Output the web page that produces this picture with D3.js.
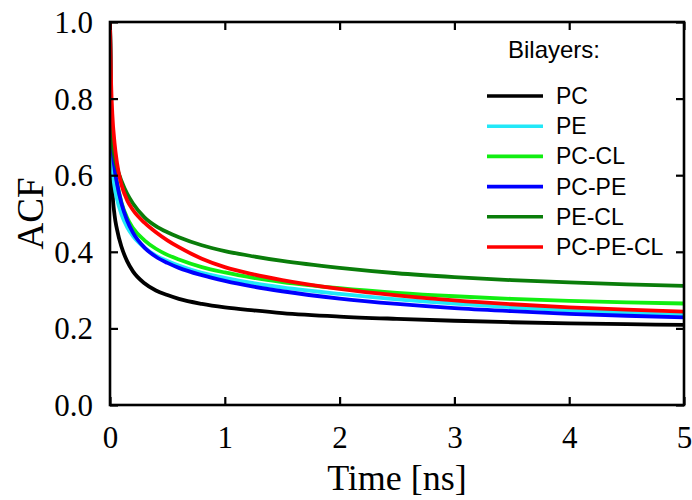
<!DOCTYPE html>
<html>
<head>
<meta charset="utf-8">
<script src="https://cdn.jsdelivr.net/npm/d3@7"></script>
<style>
  html, body { margin: 0; padding: 0; background: #fff; }
  svg { display: block; }
</style>
</head>
<body>
<svg id="chart" width="692" height="500"></svg>
<script>
// Time axis (ns) shared by every series
const times = [0, 0.01, 0.02, 0.04, 0.06, 0.1, 0.15, 0.2, 0.3, 0.4, 0.5, 0.6, 0.8,
               1.0, 1.25, 1.5, 2.0, 2.5, 3.0, 3.5, 4.0, 4.5, 5.0];

// Autocorrelation function for each bilayer composition
const acfPC     = [1.0, 0.678, 0.568, 0.495, 0.460, 0.413, 0.375, 0.349, 0.318, 0.299, 0.287, 0.277, 0.264,
                   0.255, 0.247, 0.240, 0.231, 0.225, 0.220, 0.216, 0.213, 0.211, 0.209];
const acfPE     = [1.0, 0.726, 0.632, 0.569, 0.539, 0.498, 0.464, 0.441, 0.411, 0.390, 0.376, 0.364, 0.345,
                   0.332, 0.318, 0.307, 0.290, 0.276, 0.265, 0.255, 0.247, 0.241, 0.235];
const acfPCCL   = [1.0, 0.784, 0.699, 0.626, 0.584, 0.529, 0.488, 0.462, 0.430, 0.408, 0.392, 0.380, 0.360,
                   0.346, 0.332, 0.321, 0.305, 0.293, 0.284, 0.277, 0.272, 0.268, 0.265];
const acfPCPE   = [1.0, 0.767, 0.683, 0.617, 0.580, 0.526, 0.481, 0.450, 0.411, 0.387, 0.371, 0.358, 0.339,
                   0.324, 0.309, 0.297, 0.278, 0.264, 0.253, 0.245, 0.238, 0.233, 0.229];
const acfPECL   = [1.0, 0.770, 0.694, 0.646, 0.621, 0.585, 0.551, 0.526, 0.490, 0.467, 0.451, 0.438, 0.417,
                   0.402, 0.388, 0.376, 0.358, 0.344, 0.334, 0.326, 0.320, 0.315, 0.311];
const acfPCPECL = [1.0, 0.836, 0.761, 0.683, 0.634, 0.575, 0.534, 0.509, 0.476, 0.451, 0.430, 0.412, 0.382,
                   0.360, 0.341, 0.326, 0.303, 0.286, 0.273, 0.263, 0.255, 0.249, 0.244];

const seriesNames  = ["PC", "PE", "PC-CL", "PC-PE", "PE-CL", "PC-PE-CL"];
const seriesValues = [acfPC, acfPE, acfPCCL, acfPCPE, acfPECL, acfPCPECL];
const seriesColors = ["#000000", "#22e8f8", "#11ee11", "#0000ff", "#0a7d0a", "#ff0000"];

const xTicks = [0, 1, 2, 3, 4, 5];
const yTicks = [0.0, 0.2, 0.4, 0.6, 0.8, 1.0];

const legendTitle = "Bilayers:";
const xTitle = "Time [ns]";
const yTitle = "ACF";

// Layout
const plot = { left: 110, right: 684, top: 22, bottom: 405 };
const svg = d3.select("#chart");

const x = d3.scaleLinear().domain([0, 5]).range([plot.left, plot.right]);
const y = d3.scaleLinear().domain([0, 1]).range([plot.bottom, plot.top]);

const serif = "'Liberation Serif', 'Times New Roman', serif";
const sans = "'Liberation Sans', Arial, sans-serif";

// Clip curves to the plot frame
svg.append("defs").append("clipPath").attr("id", "plot-clip")
  .append("rect")
  .attr("x", plot.left).attr("y", plot.top)
  .attr("width", plot.right - plot.left).attr("height", plot.bottom - plot.top);

// Curves
const line = d3.line()
  .x(d => x(d[0]))
  .y(d => y(d[1]))
  .curve(d3.curveMonotoneX);

const curves = svg.append("g").attr("clip-path", "url(#plot-clip)");
seriesValues.forEach((vals, i) => {
  curves.append("path")
    .datum(times.map((t, j) => [t, vals[j]]))
    .attr("fill", "none")
    .attr("stroke", seriesColors[i])
    .attr("stroke-width", 3.8)
    .attr("stroke-linejoin", "round")
    .attr("d", line);
});

// Axes with inward ticks on all four sides
function styleAxis(g) {
  g.select(".domain").remove();
  g.selectAll(".tick line").attr("stroke", "#000").attr("stroke-width", 2.2);
  g.selectAll(".tick text").attr("fill", "#000");
}

svg.append("g")
  .attr("transform", `translate(0,${plot.bottom})`)
  .call(d3.axisBottom(x).tickValues(xTicks).tickFormat(d3.format("d"))
        .tickSizeInner(-8).tickSizeOuter(0).tickPadding(21))
  .call(styleAxis)
  .call(g => g.selectAll(".tick text").attr("font-family", serif).attr("font-size", 31));

svg.append("g")
  .attr("transform", `translate(${plot.left},0)`)
  .call(d3.axisLeft(y).tickValues(yTicks).tickFormat(d3.format(".1f"))
        .tickSizeInner(-8).tickSizeOuter(0).tickPadding(17))
  .call(styleAxis)
  .call(g => g.selectAll(".tick text").attr("font-family", serif).attr("font-size", 31)
                .attr("dy", "0.34em"));

svg.append("g")
  .attr("transform", `translate(0,${plot.top})`)
  .call(d3.axisTop(x).tickValues(xTicks).tickFormat("").tickSizeInner(-8).tickSizeOuter(0))
  .call(styleAxis);

svg.append("g")
  .attr("transform", `translate(${plot.right},0)`)
  .call(d3.axisRight(y).tickValues(yTicks).tickFormat("").tickSizeInner(-8).tickSizeOuter(0))
  .call(styleAxis);

// Frame
svg.append("rect")
  .attr("x", plot.left).attr("y", plot.top)
  .attr("width", plot.right - plot.left).attr("height", plot.bottom - plot.top)
  .attr("fill", "none").attr("stroke", "#000").attr("stroke-width", 2.6);

// Axis titles
svg.append("text")
  .attr("x", (plot.left + plot.right) / 2).attr("y", 490)
  .attr("text-anchor", "middle")
  .attr("font-family", serif).attr("font-size", 36)
  .text(xTitle);

svg.append("text")
  .attr("transform", `translate(43,${(plot.top + plot.bottom) / 2}) rotate(-90)`)
  .attr("text-anchor", "middle")
  .attr("font-family", serif).attr("font-size", 37)
  .text(yTitle);

// Legend
const legend = svg.append("g");
legend.append("text")
  .attr("x", 508).attr("y", 58)
  .attr("font-family", sans).attr("font-size", 24)
  .text(legendTitle);

seriesNames.forEach((name, i) => {
  const ly = 96 + i * 30.2;
  legend.append("line")
    .attr("x1", 487).attr("x2", 543).attr("y1", ly).attr("y2", ly)
    .attr("stroke", seriesColors[i]).attr("stroke-width", 3.6);
  legend.append("text")
    .attr("x", 556).attr("y", ly + 8)
    .attr("font-family", sans).attr("font-size", 23)
    .text(name);
});
</script>
</body>
</html>
